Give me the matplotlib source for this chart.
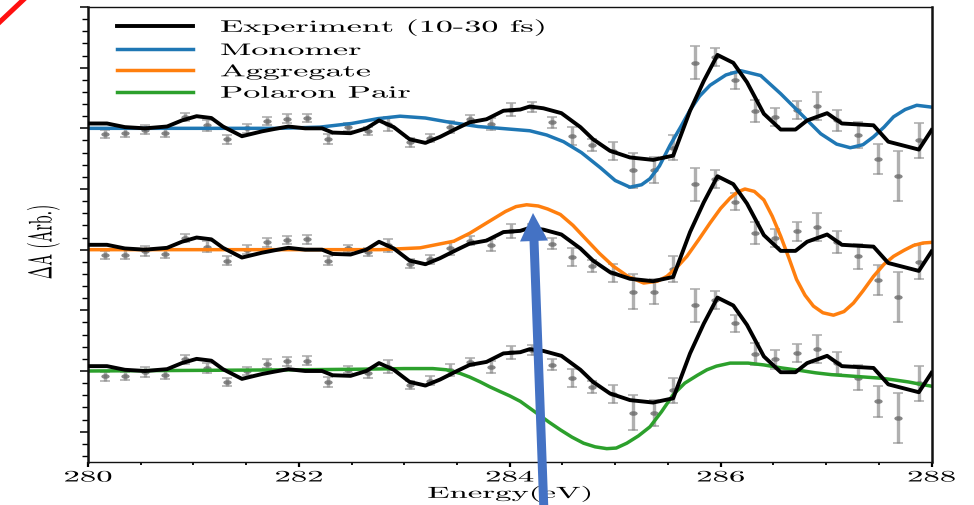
import numpy as np
import matplotlib
matplotlib.use("Agg")
import matplotlib.pyplot as plt
from matplotlib.patheffects import AbstractPathEffect
from matplotlib.transforms import Affine2D, IdentityTransform
from matplotlib.path import Path
from matplotlib.patches import FancyArrow
from matplotlib.lines import Line2D
from matplotlib.ticker import MultipleLocator

# ---------------- data ----------------
energy = [280.16, 280.35, 280.54, 280.73, 280.92, 281.13, 281.32, 281.51, 281.70, 281.89,
          282.08, 282.28, 282.47, 282.66, 282.85, 283.05, 283.24, 283.43, 283.62, 283.82,
          284.01, 284.21, 284.40, 284.59, 284.78, 284.98, 285.17, 285.37, 285.55, 285.76,
          285.95, 286.14, 286.33, 286.52, 286.72, 286.91, 287.10, 287.30, 287.49, 287.68, 287.88]
delta_a = [-0.09, -0.08, -0.02, -0.07, 0.19, 0.05, -0.18, 0.00, 0.12, 0.16,
           0.17, -0.18, 0.02, -0.04, 0.07, -0.23, -0.16, 0.02, 0.15, 0.07,
           0.31, 0.35, 0.10, -0.12, -0.27, -0.38, -0.69, -0.69, -0.32, 1.08,
           1.17, 0.79, 0.28, 0.19, 0.30, 0.37, 0.13, -0.11, -0.50, -0.78, -0.20]
delta_err = [0.07, 0.07, 0.08, 0.07, 0.07, 0.09, 0.07, 0.07, 0.07, 0.07,
             0.07, 0.08, 0.06, 0.07, 0.11, 0.07, 0.07, 0.10, 0.07, 0.10,
             0.11, 0.08, 0.09, 0.15, 0.10, 0.15, 0.29, 0.21, 0.21, 0.27,
             0.15, 0.14, 0.18, 0.15, 0.15, 0.23, 0.18, 0.21, 0.25, 0.41, 0.29]

smooth_x = [280.00, 280.18, 280.35, 280.54, 280.75, 280.89, 281.03, 281.17, 281.28, 281.46,
            281.65, 281.77, 281.90, 282.06, 282.22, 282.32, 282.49, 282.64, 282.76, 282.90,
            283.05, 283.20, 283.34, 283.50, 283.62, 283.78, 283.94, 284.10, 284.19, 284.32,
            284.49, 284.67, 284.79, 284.95, 285.14, 285.36, 285.55, 285.71, 285.84, 285.97,
            286.12, 286.25, 286.41, 286.57, 286.71, 286.82, 287.01, 287.15, 287.45, 287.59,
            287.88, 288.00]
smooth_y = [0.08, 0.08, 0.02, 0.00, 0.03, 0.13, 0.20, 0.17, 0.03, -0.13,
            -0.05, -0.01, 0.03, 0.00, 0.00, -0.07, -0.08, 0.00, 0.13, 0.02,
            -0.18, -0.24, -0.14, 0.00, 0.10, 0.15, 0.29, 0.31, 0.36, 0.33,
            0.25, 0.02, -0.18, -0.37, -0.48, -0.52, -0.45, 0.29, 0.78, 1.21,
            1.08, 0.76, 0.24, -0.02, -0.02, 0.13, 0.25, 0.08, 0.05, -0.22,
            -0.35, -0.03]

mono_x = [280.0, 281.0, 281.8, 282.2, 282.5, 282.75, 282.96, 283.2, 283.43, 283.7,
          283.91, 284.19, 284.35, 284.51, 284.68, 284.86, 285.0, 285.14, 285.25, 285.33,
          285.42, 285.52, 285.62, 285.71, 285.80, 285.90, 286.05, 286.19, 286.38, 286.57,
          286.76, 286.95, 287.10, 287.23, 287.35, 287.45, 287.55, 287.64, 287.75, 287.86, 288.0]
mono_y = [0.0, 0.0, 0.0, 0.02, 0.08, 0.16, 0.20, 0.17, 0.10, 0.03,
          0.0, -0.04, -0.11, -0.22, -0.40, -0.65, -0.86, -0.97, -0.93, -0.83,
          -0.62, -0.28, 0.02, 0.30, 0.53, 0.71, 0.88, 0.95, 0.87, 0.57,
          0.24, -0.09, -0.26, -0.32, -0.27, -0.14, 0.02, 0.19, 0.31, 0.38, 0.35]

agg_x = [280.0, 282.0, 282.77, 283.15, 283.47, 283.62, 283.78, 283.96, 284.06, 284.16,
         284.27, 284.36, 284.48, 284.60, 284.73, 284.85, 284.98, 285.12, 285.27, 285.40,
         285.49, 285.58, 285.68, 285.79, 285.90, 286.00, 286.09, 286.16, 286.23, 286.32,
         286.41, 286.49, 286.57, 286.65, 286.72, 286.80, 286.88, 286.97, 287.07, 287.17,
         287.26, 287.35, 287.45, 287.55, 287.64, 287.74, 287.83, 287.92, 288.0]
agg_y = [0.0, 0.0, 0.0, 0.03, 0.14, 0.27, 0.44, 0.63, 0.71, 0.74,
         0.72, 0.67, 0.58, 0.40, 0.16, -0.06, -0.27, -0.44, -0.55, -0.52,
         -0.44, -0.30, -0.11, 0.16, 0.44, 0.68, 0.85, 0.95, 1.00, 0.96,
         0.82, 0.55, 0.22, -0.15, -0.49, -0.75, -0.93, -1.04, -1.08, -1.02,
         -0.88, -0.68, -0.44, -0.24, -0.11, -0.01, 0.07, 0.11, 0.12]

pol_x = [280.0, 281.0, 282.0, 282.6, 283.0, 283.27, 283.40, 283.53, 283.62, 283.72,
         283.81, 283.91, 284.00, 284.10, 284.26, 284.37, 284.48, 284.59, 284.70, 284.81,
         284.92, 285.01, 285.11, 285.22, 285.33, 285.44, 285.55, 285.66, 285.78, 285.87,
         285.96, 286.09, 286.26, 286.41, 286.58, 286.75, 286.90, 287.05, 287.21, 287.37,
         287.53, 287.66, 287.78, 287.90, 288.0]
pol_y = [0.0, 0.01, 0.02, 0.03, 0.04, 0.04, 0.02, -0.04, -0.10, -0.18,
         -0.26, -0.34, -0.41, -0.50, -0.70, -0.84, -0.97, -1.09, -1.19, -1.25,
         -1.28, -1.27, -1.19, -1.07, -0.92, -0.67, -0.39, -0.20, -0.07, 0.02,
         0.08, 0.13, 0.13, 0.10, 0.05, 0.01, -0.03, -0.06, -0.08, -0.10,
         -0.12, -0.15, -0.18, -0.22, -0.25]

fit_names = ["Monomer", "Aggregate", "Polaron Pair"]
fit_colors = ["#1f77b4", "#ff7f0e", "#2ca02c"]
panel_offsets = [4.0, 2.0, 0.0]
exp_label = "Experiment (10-30 fs)"
xtick_values = [280, 282, 284, 286, 288]
xtick_labels = ["280", "282", "284", "286", "288"]


# -------- text stretching effect (reference picture is stretched horizontally) --------
class Stretch(AbstractPathEffect):
    def __init__(self, sx=1.0, sy=1.0, anchor="center"):
        super().__init__()
        self._sx, self._sy, self._anchor = sx, sy, anchor

    def draw_path(self, renderer, gc, tpath, affine, rgbFace=None):
        ext = tpath.get_extents()
        cx = 0.0 if self._anchor == "left" else 0.5 * (ext.x0 + ext.x1)
        cy = 0.5 * (ext.y0 + ext.y1)
        pre = Affine2D().translate(-cx, -cy).scale(self._sx, self._sy).translate(cx, cy)
        renderer.draw_path(gc, tpath, pre + affine, rgbFace)


SX = 2.05
plt.rcParams["font.family"] = ["cmr10", "DejaVu Serif"]
plt.rcParams["mathtext.fontset"] = "cm"
plt.rcParams["axes.unicode_minus"] = False

fig = plt.figure(figsize=(9.74, 5.05), dpi=100)
ax = fig.add_axes([88 / 974, 43 / 505, 843.5 / 974, 455 / 505])

ell = Path.unit_circle().transformed(Affine2D().scale(1.0, 0.55))

fits = [(mono_x, mono_y), (agg_x, agg_y), (pol_x, pol_y)]
handles = []
for i, off in enumerate(panel_offsets):
    ax.errorbar(energy, np.array(delta_a) + off, yerr=delta_err, fmt="none",
                ecolor=(0.5, 0.5, 0.5, 0.62), elinewidth=2.4, capsize=3.7,
                capthick=1.2, zorder=1)
    ax.plot(energy, np.array(delta_a) + off, linestyle="none", marker=ell,
            markersize=6.0, color=(0.42, 0.42, 0.42, 0.8), mec="none", zorder=1.5)
    le, = ax.plot(smooth_x, np.array(smooth_y) + off, color="black", lw=2.8, zorder=3,
                  solid_joinstyle="round")
    fx, fy = fits[i]
    lf, = ax.plot(fx, np.array(fy) + off, color=fit_colors[i], lw=2.5, zorder=2.5,
                  solid_joinstyle="round")
    if i == 0:
        handles.append(le)
    handles.append(lf)

ax.set_xlim(280, 288)
ax.set_ylim(-1.5, 6.0)
ax.set_xticks(xtick_values)
ax.set_xticklabels(xtick_labels)
ax.xaxis.set_minor_locator(MultipleLocator(0.5))
ax.yaxis.set_major_locator(MultipleLocator(1.0))
ax.yaxis.set_minor_locator(MultipleLocator(0.2))
ax.tick_params(axis="y", which="major", length=6, width=1.1, labelleft=False, direction="out")
ax.tick_params(axis="y", which="minor", length=4, width=1.0, direction="out")
ax.tick_params(axis="x", which="major", length=3.8, width=1.6, pad=2.5, labelsize=11.5, direction="out")
ax.tick_params(axis="x", which="minor", length=2.2, width=1.3, direction="out")
for side, w in (("left", 1.8), ("right", 1.8), ("top", 1.0), ("bottom", 1.0)):
    ax.spines[side].set_linewidth(w)
    ax.spines[side].set_color("#111111")

for lab in ax.get_xticklabels():
    lab.set_path_effects([Stretch(SX, 1.0, "center")])

ax.set_xlabel("Energy(eV)", fontsize=11.5, va="center")
ax.xaxis.set_label_coords(0.5, -0.07)
ax.xaxis.label.set_path_effects([Stretch(SX, 1.0, "center")])

ax.set_ylabel(r"$\Delta$A (Arb.)", fontsize=11.5, va="center")
ax.yaxis.set_label_coords(-0.053, 0.484)
ax.yaxis.label.set_path_effects([Stretch(1.0, SX, "center")])

leg = ax.legend(handles, [exp_label] + fit_names, loc="upper left",
                bbox_to_anchor=(0.0344, 0.976), frameon=False, fontsize=12,
                handlelength=4.56, handletextpad=1.62, labelspacing=0.36,
                borderaxespad=0.0, borderpad=0.0)
for t in leg.get_texts():
    t.set_path_effects([Stretch(SX, 1.0, "left")])

# blue annotation arrow and red corner stroke (pixel coordinates)
arrow = FancyArrow(544, -8, -11, 300, width=9, head_width=28, head_length=28,
                   length_includes_head=True, color="#4472C4", lw=0,
                   transform=IdentityTransform(), zorder=10)
fig.add_artist(arrow)
red = Line2D([-5, 30], [478.5, 511.5], color="#ff1010", lw=3.6,
             transform=IdentityTransform(), zorder=10)
fig.add_artist(red)

fig.savefig("out.png", dpi=100)
